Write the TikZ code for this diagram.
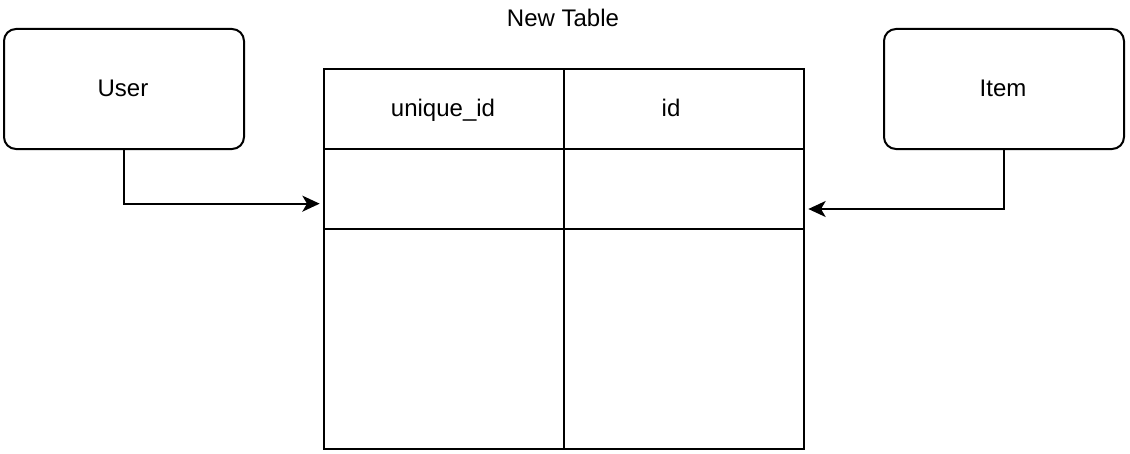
\documentclass[tikz,border=0pt]{standalone}
\usepackage{fontspec}
\setmainfont{Liberation Sans}
\usetikzlibrary{arrows.meta,positioning}

\begin{document}
\begin{tikzpicture}
	[x=0.75pt,y=-0.75pt,font=\fontsize{18}{21}\selectfont,
	every node/.style={text height=14.5pt,text depth=2pt},
	entity/.style={rectangle,rounded corners=9pt,draw=black,line width=1.5pt,minimum width=180pt,minimum height=90pt,inner sep=0pt},
	cell/.style={rectangle,draw=black,line width=1.5pt,minimum width=180pt,minimum height=60pt,inner sep=0pt},
	bigcell/.style={cell,minimum height=165pt},
	link/.style={-{Stealth[length=13pt,width=12pt,inset=3.5pt]},line width=1.3pt,shorten >=2.5pt}]
	\useasboundingbox (0,0) rectangle (1130,453);
	\node (user) at (124,89) [entity] {};
	\node at (123,88) {User};
	\node (item) at (1004,89) [entity] {};
	\node at (1003,88) {Item};
	% the table
	\node (title) at (563,18) {New Table};
	\node (headA) at (444,109) [cell] {};
	\node (headB) at (684,109) [cell] {};
	\node (rowA) at (444,189) [cell] {};
	\node (rowB) at (684,189) [cell] {};
	\node (restA) at (444,339) [bigcell] {};
	\node (restB) at (684,339) [bigcell] {};
	\node at (443,108) {unique\_id};
	\node at (671,108) {id};
	\draw [link] (user.south) |- ([yshift=-11pt]rowA.west);
	\draw [link] (item.south) |- ([yshift=-15pt]rowB.east);
\end{tikzpicture}
\end{document}
